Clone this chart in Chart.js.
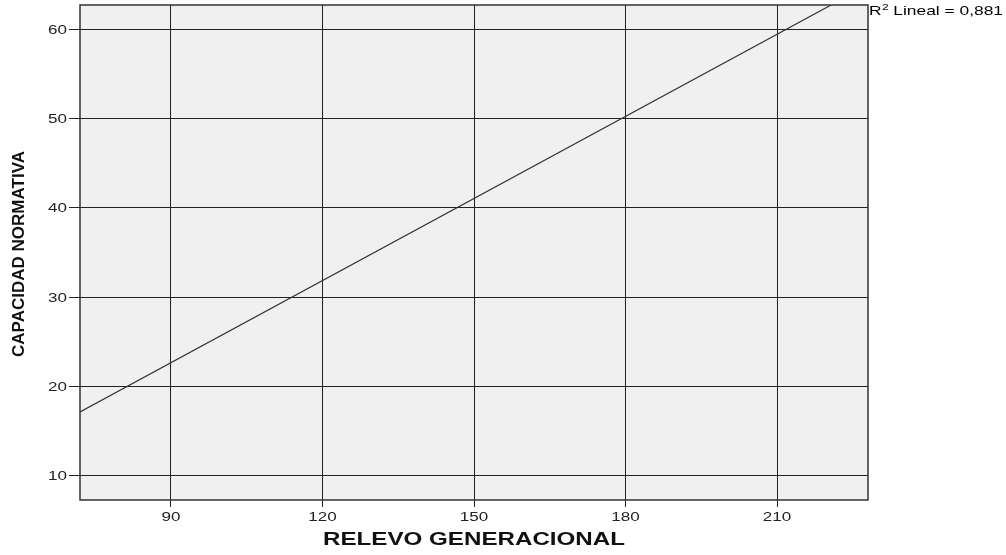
<!DOCTYPE html>
<html><head><meta charset="utf-8">
<script src="https://cdn.jsdelivr.net/npm/chart.js@4"></script>
<style>html,body{margin:0;padding:0;background:#fff}#w{width:1006px;height:555px}</style>
</head><body><div id="w"><canvas id="c" width="1006" height="555"></canvas></div>
<script>
// Fit line (x = RELEVO GENERACIONAL, y = CAPACIDAD NORMATIVA)
const fitX = [72, 220.7];
const fitY = [17.1, 62.8];
const xTicks = [90, 120, 150, 180, 210];
const yTicks = [10, 20, 30, 40, 50, 60];
const xRange = [72, 228];
const yRange = [7.2, 62.8];
const r2Label = "0,881";
const xTitle = "RELEVO GENERACIONAL";
const yTitle = "CAPACIDAD NORMATIVA";

const SX = 1.42; // horizontal stretch of the reference's text
const tickFont = '12px "Liberation Sans", Arial, sans-serif';

function stretchedText(ctx, text, x, y, font, sx, align) {
  ctx.save();
  ctx.font = font;
  const w = ctx.measureText(text).width * sx;
  let left = x;
  if (align === 'center') left = x - w / 2;
  else if (align === 'right') left = x - w;
  ctx.translate(left, y);
  ctx.scale(sx, 1);
  ctx.textAlign = 'left';
  ctx.fillText(text, 0, 0);
  ctx.restore();
  return w;
}

const textPlugin = {
  id: 'txt',
  beforeDraw(chart) {
    const {ctx, chartArea: a} = chart;
    ctx.save(); ctx.fillStyle = '#f0f0f0';
    ctx.fillRect(a.left, a.top, a.right - a.left, a.bottom - a.top);
    ctx.restore();
  },
  afterDraw(chart) {
    const {ctx, chartArea: a, scales} = chart;
    ctx.save();
    ctx.strokeStyle = '#333'; ctx.lineWidth = 1.5;
    ctx.strokeRect(a.left, a.top, a.right - a.left, a.bottom - a.top);
    ctx.fillStyle = '#222'; ctx.textBaseline = 'alphabetic';
    // tick labels
    xTicks.forEach(v => stretchedText(ctx, String(v), scales.x.getPixelForValue(v), 520.5, tickFont, SX, 'center'));
    yTicks.forEach(v => stretchedText(ctx, String(v), 67, scales.y.getPixelForValue(v) + 4.5, tickFont, SX, 'right'));
    // x title
    ctx.fillStyle = '#111';
    ctx.font = 'bold 18px "Liberation Sans", Arial, sans-serif';
    const xw = ctx.measureText(xTitle).width;
    stretchedText(ctx, xTitle, (a.left + a.right) / 2, 544.5, ctx.font, 302 / xw, 'center');
    // y title (rotated)
    ctx.save();
    ctx.translate(24, 254);
    ctx.rotate(-Math.PI / 2);
    ctx.font = 'bold 16px "Liberation Sans", Arial, sans-serif';
    const yw = ctx.measureText(yTitle).width;
    stretchedText(ctx, yTitle, 0, 0, ctx.font, 206 / yw, 'center');
    ctx.restore();
    // R2 label
    ctx.fillStyle = '#000';
    const rf = '13px "Liberation Sans", Arial, sans-serif';
    const sf = '9px "Liberation Sans", Arial, sans-serif';
    const lf = '13px "Liberation Sans", Arial, sans-serif';
    ctx.font = rf; const w1 = ctx.measureText('R').width;
    ctx.font = sf; const w2 = ctx.measureText('2').width;
    ctx.font = lf; const w3 = ctx.measureText('Lineal = ' + r2Label).width;
    const s = (1003 - a.right - 1 - 5) / (w1 + w2 + w3);
    let x = a.right + 1, y = 15;
    x += stretchedText(ctx, 'R', x, y, rf, s, 'left');
    x += stretchedText(ctx, '2', x + 0.5, y - 5, sf, s, 'left') + 5;
    stretchedText(ctx, 'Lineal = ' + r2Label, x, y, lf, s, 'left');
    ctx.restore();
  }
};

new Chart(document.getElementById('c'), {
  type: 'scatter',
  data: {
    datasets: [{
      data: fitX.map((v, i) => ({x: v, y: fitY[i]})),
      showLine: true, borderColor: '#333', borderWidth: 1.2,
      pointRadius: 0, fill: false
    }]
  },
  options: {
    responsive: false, animation: false,
    layout: {padding: {top: 5, right: 138, left: 0, bottom: 0}},
    plugins: {legend: {display: false}, tooltip: {enabled: false}},
    scales: {
      x: {
        type: 'linear', min: xRange[0], max: xRange[1],
        afterBuildTicks(s) { s.ticks = xTicks.map(v => ({value: v})); },
        afterFit(s) { s.height = 55; },
        grid: {color: '#222', lineWidth: 1, tickLength: 7, drawTicks: true},
        border: {display: false},
        ticks: {display: false},
        title: {display: false}
      },
      y: {
        type: 'linear', min: yRange[0], max: yRange[1],
        afterBuildTicks(s) { s.ticks = yTicks.map(v => ({value: v})); },
        afterFit(s) { s.width = 80; },
        grid: {color: '#222', lineWidth: 1, tickLength: 11},
        border: {display: false},
        ticks: {display: false},
        title: {display: false}
      }
    }
  },
  plugins: [textPlugin]
});
</script></body></html>
